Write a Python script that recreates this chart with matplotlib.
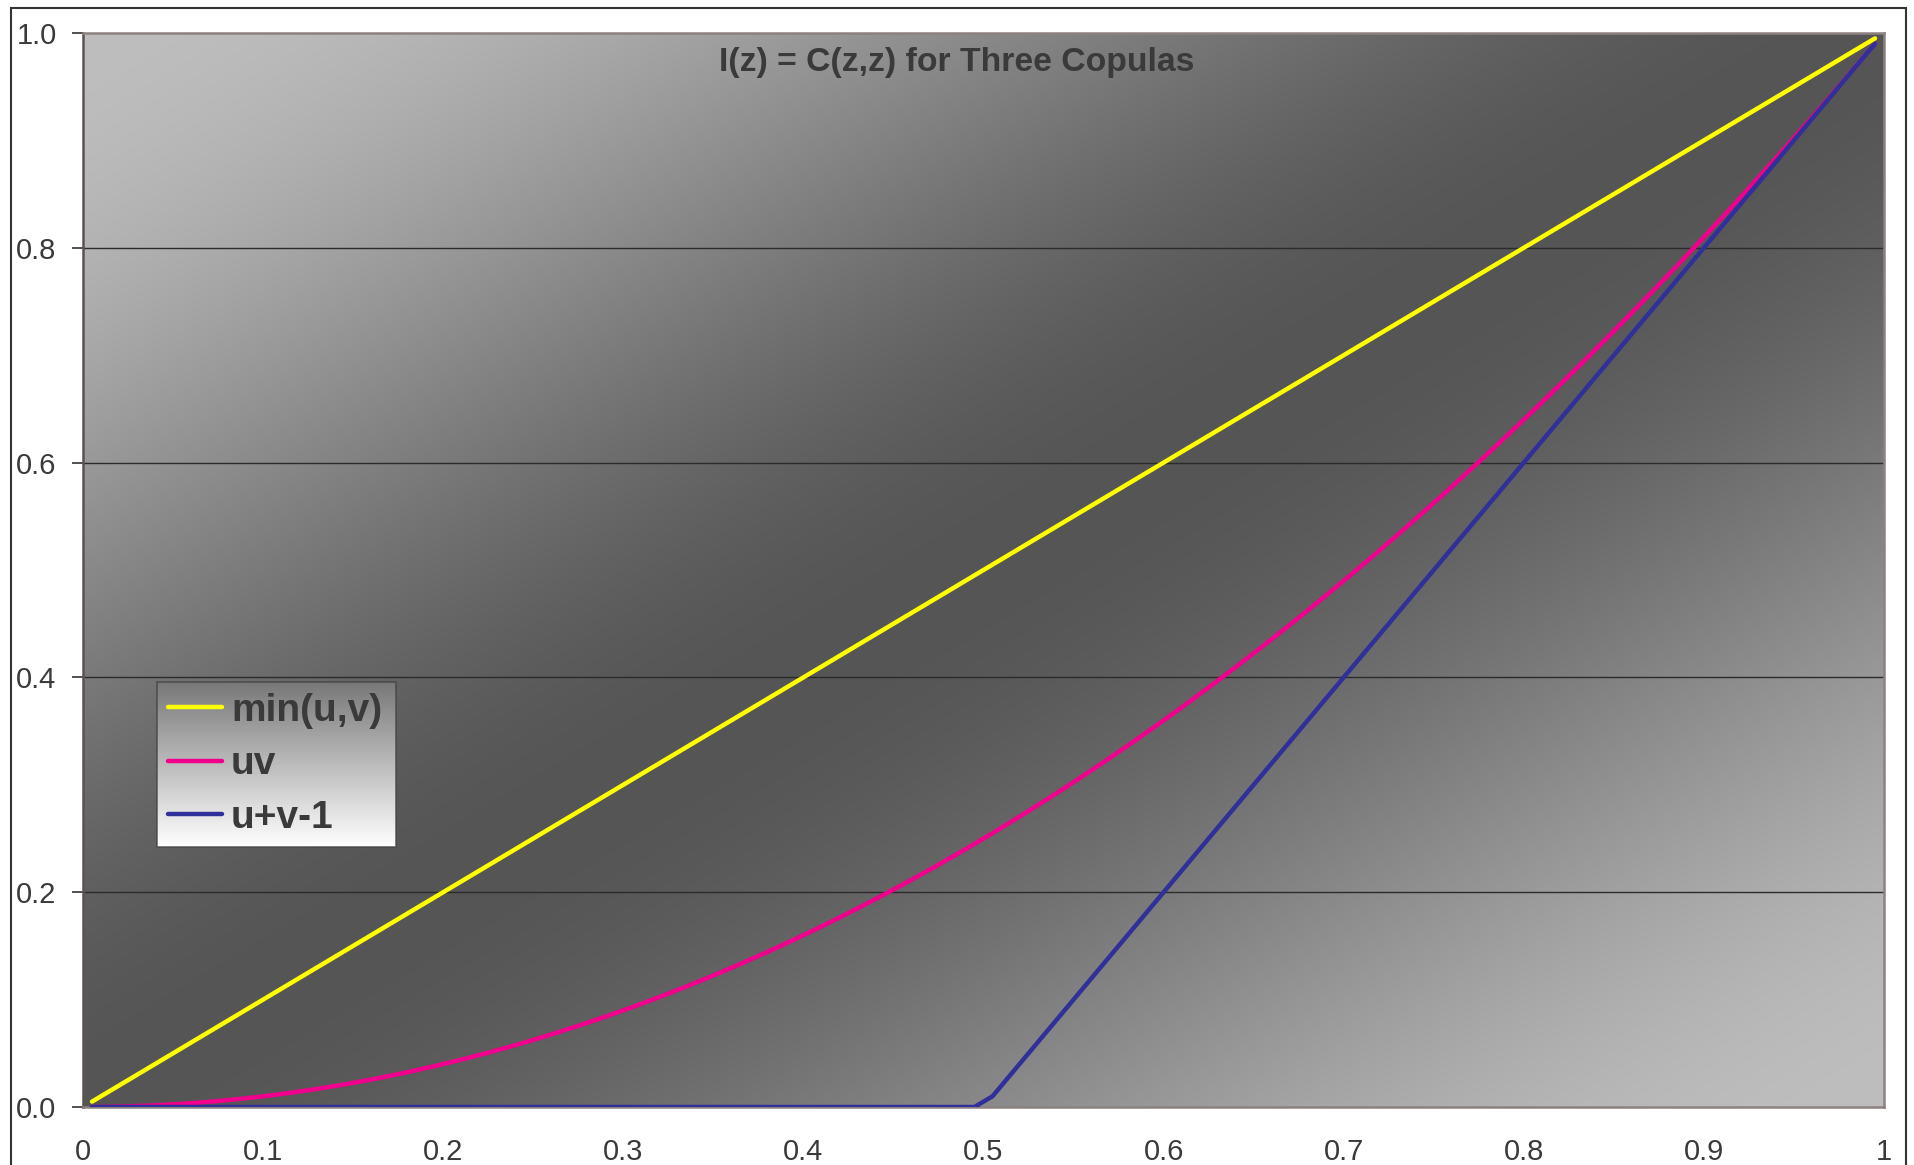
import numpy as np
import matplotlib
matplotlib.use("Agg")
import matplotlib.pyplot as plt
from matplotlib.patches import Rectangle

plt.rcParams['font.family'] = ['Liberation Sans', 'DejaVu Sans']

# Grid of z values (cell midpoints)
z = [0.005, 0.015, 0.025, 0.035, 0.045, 0.055, 0.065, 0.075, 0.085, 0.095,
     0.105, 0.115, 0.125, 0.135, 0.145, 0.155, 0.165, 0.175, 0.185, 0.195,
     0.205, 0.215, 0.225, 0.235, 0.245, 0.255, 0.265, 0.275, 0.285, 0.295,
     0.305, 0.315, 0.325, 0.335, 0.345, 0.355, 0.365, 0.375, 0.385, 0.395,
     0.405, 0.415, 0.425, 0.435, 0.445, 0.455, 0.465, 0.475, 0.485, 0.495,
     0.505, 0.515, 0.525, 0.535, 0.545, 0.555, 0.565, 0.575, 0.585, 0.595,
     0.605, 0.615, 0.625, 0.635, 0.645, 0.655, 0.665, 0.675, 0.685, 0.695,
     0.705, 0.715, 0.725, 0.735, 0.745, 0.755, 0.765, 0.775, 0.785, 0.795,
     0.805, 0.815, 0.825, 0.835, 0.845, 0.855, 0.865, 0.875, 0.885, 0.895,
     0.905, 0.915, 0.925, 0.935, 0.945, 0.955, 0.965, 0.975, 0.985, 0.995]

# Upper Frechet bound: min(z, z)
c_min = [0.005, 0.015, 0.025, 0.035, 0.045, 0.055, 0.065, 0.075, 0.085, 0.095,
         0.105, 0.115, 0.125, 0.135, 0.145, 0.155, 0.165, 0.175, 0.185, 0.195,
         0.205, 0.215, 0.225, 0.235, 0.245, 0.255, 0.265, 0.275, 0.285, 0.295,
         0.305, 0.315, 0.325, 0.335, 0.345, 0.355, 0.365, 0.375, 0.385, 0.395,
         0.405, 0.415, 0.425, 0.435, 0.445, 0.455, 0.465, 0.475, 0.485, 0.495,
         0.505, 0.515, 0.525, 0.535, 0.545, 0.555, 0.565, 0.575, 0.585, 0.595,
         0.605, 0.615, 0.625, 0.635, 0.645, 0.655, 0.665, 0.675, 0.685, 0.695,
         0.705, 0.715, 0.725, 0.735, 0.745, 0.755, 0.765, 0.775, 0.785, 0.795,
         0.805, 0.815, 0.825, 0.835, 0.845, 0.855, 0.865, 0.875, 0.885, 0.895,
         0.905, 0.915, 0.925, 0.935, 0.945, 0.955, 0.965, 0.975, 0.985, 0.995]

# Independence copula: z * z
c_prod = [0.0000, 0.0002, 0.0006, 0.0012, 0.0020, 0.0030, 0.0042, 0.0056, 0.0072, 0.0090,
          0.0110, 0.0132, 0.0156, 0.0182, 0.0210, 0.0240, 0.0272, 0.0306, 0.0342, 0.0380,
          0.0420, 0.0462, 0.0506, 0.0552, 0.0600, 0.0650, 0.0702, 0.0756, 0.0812, 0.0870,
          0.0930, 0.0992, 0.1056, 0.1122, 0.1190, 0.1260, 0.1332, 0.1406, 0.1482, 0.1560,
          0.1640, 0.1722, 0.1806, 0.1892, 0.1980, 0.2070, 0.2162, 0.2256, 0.2352, 0.2450,
          0.2550, 0.2652, 0.2756, 0.2862, 0.2970, 0.3080, 0.3192, 0.3306, 0.3422, 0.3540,
          0.3660, 0.3782, 0.3906, 0.4032, 0.4160, 0.4290, 0.4422, 0.4556, 0.4692, 0.4830,
          0.4970, 0.5112, 0.5256, 0.5402, 0.5550, 0.5700, 0.5852, 0.6006, 0.6162, 0.6320,
          0.6480, 0.6642, 0.6806, 0.6972, 0.7140, 0.7310, 0.7482, 0.7656, 0.7832, 0.8010,
          0.8190, 0.8372, 0.8556, 0.8742, 0.8930, 0.9120, 0.9312, 0.9506, 0.9702, 0.9900]

# Lower Frechet bound: max(z + z - 1, 0)
c_low = [0.00, 0.00, 0.00, 0.00, 0.00, 0.00, 0.00, 0.00, 0.00, 0.00,
         0.00, 0.00, 0.00, 0.00, 0.00, 0.00, 0.00, 0.00, 0.00, 0.00,
         0.00, 0.00, 0.00, 0.00, 0.00, 0.00, 0.00, 0.00, 0.00, 0.00,
         0.00, 0.00, 0.00, 0.00, 0.00, 0.00, 0.00, 0.00, 0.00, 0.00,
         0.00, 0.00, 0.00, 0.00, 0.00, 0.00, 0.00, 0.00, 0.00, 0.00,
         0.01, 0.03, 0.05, 0.07, 0.09, 0.11, 0.13, 0.15, 0.17, 0.19,
         0.21, 0.23, 0.25, 0.27, 0.29, 0.31, 0.33, 0.35, 0.37, 0.39,
         0.41, 0.43, 0.45, 0.47, 0.49, 0.51, 0.53, 0.55, 0.57, 0.59,
         0.61, 0.63, 0.65, 0.67, 0.69, 0.71, 0.73, 0.75, 0.77, 0.79,
         0.81, 0.83, 0.85, 0.87, 0.89, 0.91, 0.93, 0.95, 0.97, 0.99]

series_labels = ["min(u,v)", "uv", "u+v-1"]
series_colors = ["#ffff00", "#f0008c", "#30309a"]

x_ticks = [0.0, 0.1, 0.2, 0.3, 0.4, 0.5, 0.6, 0.7, 0.8, 0.9, 1.0]
x_ticklabels = ["0", "0.1", "0.2", "0.3", "0.4", "0.5", "0.6", "0.7", "0.8", "0.9", "1"]
y_ticks = [0.0, 0.2, 0.4, 0.6, 0.8, 1.0]
y_ticklabels = ["0.0", "0.2", "0.4", "0.6", "0.8", "1.0"]

title = "I(z) = C(z,z) for Three Copulas"

W, H = 1915, 1165
fig = plt.figure(figsize=(W / 100, H / 100), dpi=100)
fig.patch.set_facecolor("white")

L, R, T, B = 83, 1884, 33, 1107
ax = fig.add_axes([L / W, 1 - B / H, (R - L) / W, (B - T) / H])
ax.set_facecolor("#777777")

# diagonal light-dark-light backdrop (smooth ramp away from the diagonal)
gu, gv = np.meshgrid(np.linspace(0, 1, 600), np.linspace(1, 0, 400))
d = np.abs(gv - gu)
ramp = 3 * d ** 2 - 2 * d ** 3
light, dark = 0xbe / 255, 0x55 / 255
shade = dark + (light - dark) * ramp
ax.imshow(np.dstack([shade, shade, shade]), extent=(0, 1, 0, 1),
          transform=ax.transAxes, aspect="auto", zorder=0, interpolation="bilinear")

for yv in y_ticks[1:-1]:
    ax.axhline(yv, color="#2b2b2b", lw=1.0, zorder=1)

text_col = "#3a3a3a"
for ys, lab, col in zip([c_min, c_prod, c_low], series_labels, series_colors):
    ax.plot(z, ys, color=col, lw=3.2, label=lab, zorder=3,
            solid_joinstyle="round", solid_capstyle="round")

ax.set_xticks(x_ticks)
ax.set_xticklabels(x_ticklabels)
ax.set_yticks(y_ticks)
ax.set_yticklabels(y_ticklabels)
ax.tick_params(axis="x", length=0, pad=22, labelsize=21, labelcolor=text_col)
ax.tick_params(axis="y", length=8, width=1.2, color="#333333", pad=11,
               labelsize=21, labelcolor=text_col)

for side, sp in ax.spines.items():
    sp.set_color("#8c8080")
    sp.set_linewidth(1.8)
ax.spines["left"].set_color("#5a5252")

fig.text(957 / W, 1 - 63 / H, title, ha="center", va="center",
         fontsize=24.3, fontweight="bold", color=text_col)

# legend box anchored by its upper-left corner
leg = ax.legend(loc="upper left",
                bbox_to_anchor=(157 / W, 1 - 840 / H, (396 - 157) / W, (840 - 682) / H),
                bbox_transform=fig.transFigure, mode="expand",
                prop={"weight": "bold", "size": 28}, labelcolor=text_col,
                frameon=True, fancybox=False, borderaxespad=0, borderpad=0.28,
                handlelength=1.4, handletextpad=0.22, labelspacing=0.45)
leg.get_frame().set_facecolor("none")
leg.get_frame().set_edgecolor("#444444")
leg.get_frame().set_linewidth(1.2)
for lh in leg.get_lines():
    lh.set_linewidth(3.2)
leg.set_zorder(6)

ax.set_xlim(0, 1)
ax.set_ylim(0, 1)

fig.canvas.draw()
bb = leg.get_frame().get_window_extent().transformed(ax.transAxes.inverted())
gy = np.linspace(0, 1, 200)[:, None] * np.ones((1, 2))
lg = (0x78 / 255) + (1 - 0x78 / 255) * gy
ax.imshow(np.dstack([lg, lg, lg]), extent=(bb.x0, bb.x1, bb.y0, bb.y1),
          transform=ax.transAxes, aspect="auto", zorder=5, interpolation="bilinear")
ax.set_xlim(0, 1)
ax.set_ylim(0, 1)

# outer chart frame
fig.add_artist(Rectangle((11 / W, -0.05), (1906 - 11) / W, 0.05 + 1 - 8 / H,
                         transform=fig.transFigure, fill=False,
                         edgecolor="#333333", lw=1.5, clip_on=False))

fig.savefig("out.png", dpi=100)
